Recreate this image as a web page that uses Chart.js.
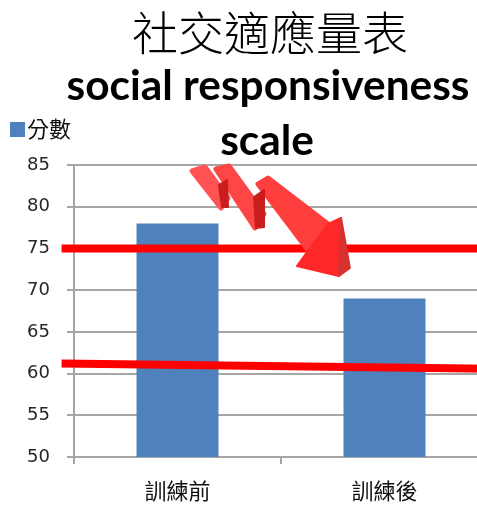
<!DOCTYPE html>
<html>
<head>
<meta charset="utf-8">
<script src="https://cdn.jsdelivr.net/npm/chart.js@4/dist/chart.umd.min.js"></script>
<style>
  html, body { margin: 0; padding: 0; background: #fff; overflow: hidden; }
  #wrap { width: 490px; height: 507px; position: relative; }
</style>
</head>
<body>
<div id="wrap"><canvas id="chart"></canvas></div>
<script>
// chart data
const categories = ['訓練前', '訓練後'];
const scores = [78, 69];
const yTicks = [50, 55, 60, 65, 70, 75, 80, 85];

// hand-drawn red marks (x in category units, y in score units)
const line1X = [-0.56, 1.6];
const line1Y = [75, 75];
const line2X = [-0.56, 1.6];
const line2Y = [61.2, 60.55];

// zigzag arrow, one polygon per face
const arrowLightX = [
  [0.070, 0.133, 0.244, 0.210],
  [0.186, 0.249, 0.418, 0.374],
  [0.389, 0.437, 0.727, 0.630],
  [0.577, 0.640, 0.727, 0.790, 0.780]
];
const arrowLightY = [
  [84.28, 84.76, 81.04, 79.85],
  [84.52, 84.88, 79.13, 77.45],
  [82.72, 83.44, 77.93, 74.81],
  [72.89, 75.05, 77.93, 78.65, 71.69]
];
const arrowDarkX = [
  [0.200, 0.239, 0.244, 0.215],
  [0.370, 0.418, 0.418, 0.379],
  [0.790, 0.833, 0.780]
];
const arrowDarkY = [
  [82.60, 83.20, 79.97, 79.97],
  [81.16, 82.00, 77.57, 77.45],
  [78.65, 72.65, 71.69]
];

const GRID = '#a6a6a6';
const pts = (xs, ys) => xs.map((x, i) => ({x: x, y: ys[i]}));

const overlay = {
  id: 'overlay',
  afterDatasetsDraw(chart) {
    const c = chart.ctx;
    const sx = chart.scales.x2, sy = chart.scales.y;
    const poly = (xs, ys, fill, grow) => {
      c.beginPath();
      xs.forEach((x, i) => {
        const px = sx.getPixelForValue(x), py = sy.getPixelForValue(ys[i]);
        i ? c.lineTo(px, py) : c.moveTo(px, py);
      });
      c.closePath();
      c.fillStyle = fill;
      c.fill();
      c.strokeStyle = fill;
      c.lineJoin = 'round';
      c.lineWidth = grow;
      c.stroke();
    };
    const light = ['#ff5252', '#ff4646', '#ff3e3e', '#ff2828'];
    c.save();
    arrowLightX.forEach((xs, i) => poly(xs, arrowLightY[i], light[i], i < 3 ? 5 : 2));
    const dark = ['#c81e1e', '#c81e1e', '#d63232'];
    arrowDarkX.forEach((xs, i) => poly(xs, arrowDarkY[i], dark[i], 2));
    c.restore();
  },
  afterDraw(chart) {
    const c = chart.ctx;
    c.save();
    c.fillStyle = '#000';
    c.textAlign = 'center';
    c.textBaseline = 'middle';
    c.font = '300 46px "Noto Sans CJK TC"';
    c.fillText('社交適應量表', 270, 33);
    c.textBaseline = 'alphabetic';
    let size = 37;
    c.font = 'bold ' + size + 'px Lato';
    const w = c.measureText('social responsiveness').width;
    size = size * 403 / w;
    c.font = 'bold ' + size.toFixed(1) + 'px Lato';
    c.fillText('social responsiveness', 268, 100);
    c.fillText('scale', 267, 155);
    // legend
    c.fillStyle = '#4f81bd';
    c.fillRect(10, 122, 15, 15);
    c.fillStyle = '#111';
    c.textAlign = 'left';
    c.textBaseline = 'middle';
    c.font = '22px "Noto Sans CJK TC"';
    c.fillText('分數', 27, 129);
    c.restore();
  }
};

new Chart(document.getElementById('chart'), {
  data: {
    labels: categories,
    datasets: [
      { type: 'bar', label: '分數', data: scores, backgroundColor: '#4f81bd',
        barPercentage: 0.396, categoryPercentage: 1, grouped: false, order: 2 },
      { type: 'line', data: pts(line1X, line1Y), xAxisID: 'x2', borderColor: '#ff0000',
        borderWidth: 8, pointRadius: 0, clip: false, borderCapStyle: 'butt', order: 1 },
      { type: 'line', data: pts(line2X, line2Y), xAxisID: 'x2', borderColor: '#ff0000',
        borderWidth: 8, pointRadius: 0, clip: false, borderCapStyle: 'butt', order: 1 }
    ]
  },
  options: {
    responsive: true,
    maintainAspectRatio: false,
    animation: false,
    layout: { padding: { top: 165, right: 2, left: 0, bottom: 0 } },
    plugins: { legend: { display: false }, title: { display: false }, tooltip: { enabled: false } },
    scales: {
      x: {
        type: 'category',
        offset: true,
        grid: { drawOnChartArea: false, color: GRID, lineWidth: 2, tickLength: 7, offset: true },
        border: { color: GRID, width: 2 },
        ticks: { color: '#111', padding: 13, font: { family: '"Noto Sans CJK TC"', size: 22 } },
        afterFit: s => { s.height = 50; }
      },
      x2: { type: 'linear', display: false, min: -0.5, max: 1.5 },
      y: {
        min: yTicks[0],
        max: yTicks[yTicks.length - 1],
        afterBuildTicks: s => { s.ticks = yTicks.map(v => ({value: v})); },
        grid: { color: GRID, lineWidth: 2, tickLength: 7 },
        border: { color: GRID, width: 2 },
        ticks: { color: '#262626', padding: 17, font: { family: '"DejaVu Sans"', size: 18 } },
        afterFit: s => { s.width = 74; }
      }
    }
  },
  plugins: [overlay]
});
</script>
</body>
</html>
